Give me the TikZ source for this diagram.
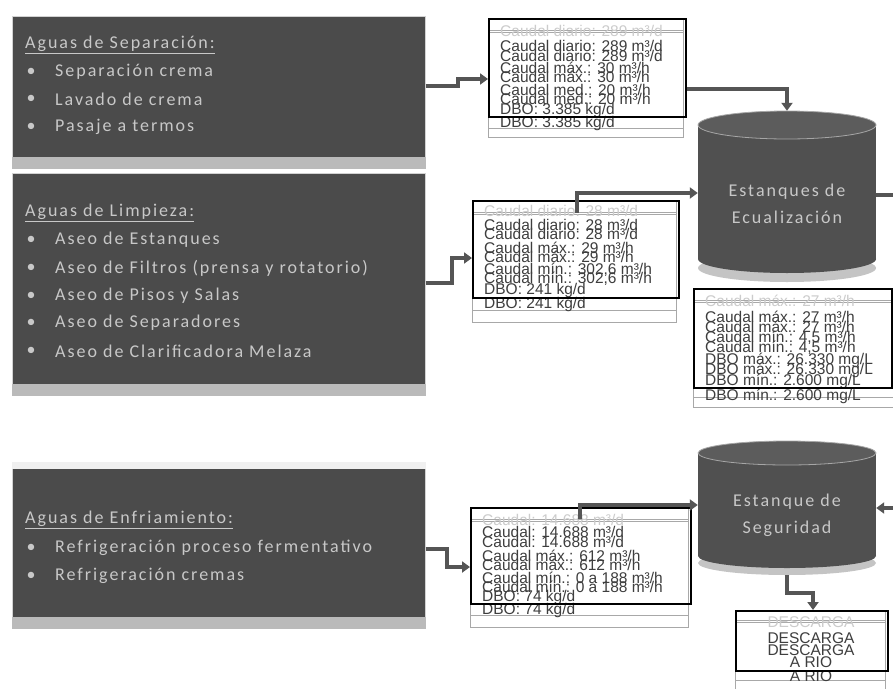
\documentclass[tikz,border=0pt]{standalone}
\usepackage{fontspec}
\setmainfont{Liberation Sans}
\newfontfamily\boxfamily{Carlito}[LetterSpace=11]
\newcommand\srcfont{\boxfamily\fontsize{18}{20}\selectfont}
\newcommand\tankfont{\boxfamily\fontsize{18}{27}\selectfont}
\newcommand\tabfont{\fontsize{15.5}{16}\selectfont}
\usetikzlibrary{arrows.meta}
\definecolor{boxdark}{HTML}{4B4B4B}
\definecolor{boxstrip}{HTML}{BABABA}
\definecolor{boxtext}{HTML}{C8C8C8}
\definecolor{conncol}{HTML}{555555}
\definecolor{tabline}{HTML}{A8A8A8}
\definecolor{tabtext}{HTML}{3E3E3E}
\definecolor{tankdark}{HTML}{505050}
\definecolor{tanktop}{HTML}{5C5C5C}
\definecolor{tankrim}{HTML}{C4C4C4}
\begin{document}
\begin{tikzpicture}[x=1pt,y=-1pt,
 srcbox/.style={fill=boxdark, draw=gray!35, line width=0.6pt, minimum width=413pt, inner sep=0pt, anchor=north west},
 srctext/.style={anchor=west, inner sep=0pt, text=boxtext, font=\srcfont},
 dotmark/.style={anchor=center, inner sep=0pt, text=boxtext, font=\srcfont},
 datarect/.style={draw=black, line width=1.6pt, anchor=north west, inner sep=0pt},
 tabbox/.style={draw=tabline, line width=0.8pt},
 tabrow/.style={anchor=west, inner sep=0pt, text=tabtext, font=\tabfont},
 tabfaint/.style={tabrow, text=gray!40},
 tabmid/.style={anchor=center, inner sep=0pt, text=tabtext, font=\tabfont},
 conn/.style={draw=conncol, line width=3.2pt, -{Triangle[length=8pt,width=11pt]}},
 connline/.style={draw=conncol, line width=3.2pt},
 tanktxt/.style={align=center, text=boxtext, font=\tankfont, inner sep=0pt},
 tanknode/.style={inner sep=0pt, minimum width=178pt},
]
\useasboundingbox (0,0) rectangle (893,688);
\fill[white] (0,0) rectangle (893,688);

% ---------- source boxes ----------
\node[srcbox, minimum height=152pt] (s1) at (12,16) {};
\fill[boxstrip] ([yshift=12pt]s1.south west) rectangle (s1.south east);
\node[srctext] (s1t) at (25,45) {\underline{Aguas de Separación:}};
\node[dotmark] (s1d1) at (31,72) {•};  \node[srctext] (s1a) at (55,72) {Separación crema};
\node[dotmark] (s1d2) at (31,99) {•};  \node[srctext] (s1b) at (55,99) {Lavado de crema};
\node[dotmark] (s1d3) at (31,127) {•}; \node[srctext] (s1c) at (55,127) {Pasaje a termos};

\node[srcbox, minimum height=222pt] (s2) at (12,173) {};
\fill[boxstrip] ([yshift=12pt]s2.south west) rectangle (s2.south east);
\node[srctext] (s2t) at (25,213) {\underline{Aguas de Limpieza:}};
\node[dotmark] (s2d1) at (31,240) {•}; \node[srctext] (s2a) at (55,240) {Aseo de Estanques};
\node[dotmark] (s2d2) at (31,268) {•}; \node[srctext] (s2b) at (55,268) {Aseo de Filtros (prensa y rotatorio)};
\node[dotmark] (s2d3) at (31,296) {•}; \node[srctext] (s2c) at (55,296) {Aseo de Pisos y Salas};
\node[dotmark] (s2d4) at (31,323) {•}; \node[srctext] (s2d) at (55,323) {Aseo de Separadores};
\node[dotmark] (s2d5) at (31,351) {•}; \node[srctext] (s2e) at (55,351) {Aseo de Clarificadora Melaza};

\node[srcbox, minimum height=166pt] (s3) at (12,462) {};
\fill[gray!12] (s3.north west) rectangle ([yshift=-7pt]s3.north east);
\fill[boxstrip] ([yshift=12pt]s3.south west) rectangle (s3.south east);
\node[srctext] (s3t) at (25,520) {\underline{Aguas de Enfriamiento:}};
\node[dotmark] (s3d1) at (31,548) {•}; \node[srctext] (s3a) at (55,548) {Refrigeración proceso fermentativo};
\node[dotmark] (s3d2) at (31,576) {•}; \node[srctext] (s3b) at (55,576) {Refrigeración cremas};

% ---------- data tables ----------
% q1
\draw[tabbox] (488,18) rectangle (683,137);
\draw[tabline] (488,30) -- (683,30) (488,32) -- (683,32) (488,128) -- (683,128);
\node[tabfaint] at (500,31) {Caudal diario: 289 m³/d};
\node[tabrow] at (500,46) {Caudal diario: 289 m³/d};
\node[tabrow] at (500,56) {Caudal diario: 289 m³/d};
\node[tabrow] at (500,68) {Caudal máx.: 30 m³/h};
\node[tabrow] at (500,77) {Caudal máx.: 30 m³/h};
\node[tabrow] at (500,90) {Caudal med.: 20 m³/h};
\node[tabrow] at (500,99) {Caudal med.: 20 m³/h};
\node[tabrow] at (500,110) {DBO: 3.385 kg/d};
\node[tabrow] at (500,123) {DBO: 3.385 kg/d};
\node[datarect, minimum width=197pt, minimum height=98pt] (q1) at (488,18) {};

% q2
\draw[tabbox] (472,200) rectangle (676,322);
\draw[tabline] (472,212) -- (676,212) (472,214) -- (676,214) (472,310) -- (676,310);
\node[tabfaint] at (484,211) {Caudal diario: 28 m³/d};
\node[tabrow] at (484,225) {Caudal diario: 28 m³/d};
\node[tabrow] at (484,234) {Caudal diario: 28 m³/d};
\node[tabrow] at (484,248) {Caudal máx.: 29 m³/h};
\node[tabrow] at (484,257) {Caudal máx.: 29 m³/h};
\node[tabrow] at (484,270) {Caudal mín.: 302,6 m³/h};
\node[tabrow] at (484,279) {Caudal mín.: 302,6 m³/h};
\node[tabrow] at (484,290) {DBO: 241 kg/d};
\node[tabrow] at (484,304) {DBO: 241 kg/d};
\node[datarect, minimum width=206pt, minimum height=97pt] (q2) at (472,200) {};

% q3
\draw[tabbox] (693,288) rectangle (893,407);
\draw[tabline] (693,300) -- (893,300) (693,302) -- (893,302) (693,397) -- (893,397);
\node[tabfaint] at (705,301) {Caudal máx.: 27 m³/h};
\node[tabrow] at (705,317) {Caudal máx.: 27 m³/h};
\node[tabrow] at (705,327) {Caudal máx.: 27 m³/h};
\node[tabrow] at (705,338) {Caudal mín.: 4,5 m³/h};
\node[tabrow] at (705,348) {Caudal mín.: 4,5 m³/h};
\node[tabrow] at (705,360) {DBO máx.: 26.330 mg/L};
\node[tabrow] at (705,370) {DBO máx.: 26.330 mg/L};
\node[tabrow] at (705,381) {DBO mín.: 2.600 mg/L};
\node[tabrow] at (705,396) {DBO mín.: 2.600 mg/L};
\node[datarect, minimum width=198pt, minimum height=99pt] (q3) at (693,288) {};

% q4
\draw[tabbox] (470,507) rectangle (688,627);
\draw[tabline] (470,519) -- (688,519) (470,521) -- (688,521) (470,615) -- (688,615);
\node[tabfaint] at (482,520) {Caudal: 14.688 m³/d};
\node[tabrow] at (482,532) {Caudal: 14.688 m³/d};
\node[tabrow] at (482,542) {Caudal: 14.688 m³/d};
\node[tabrow] at (482,556) {Caudal máx.: 612 m³/h};
\node[tabrow] at (482,565) {Caudal máx.: 612 m³/h};
\node[tabrow] at (482,578) {Caudal mín.: 0 a 188 m³/h};
\node[tabrow] at (482,587) {Caudal mín.: 0 a 188 m³/h};
\node[tabrow] at (482,597) {DBO: 74 kg/d};
\node[tabrow] at (482,610) {DBO: 74 kg/d};
\node[datarect, minimum width=220pt, minimum height=96pt] (q4) at (470,507) {};

% q5
\draw[tabbox] (735,610) rectangle (885,690);
\draw[tabline] (735,620) -- (885,620) (735,622) -- (885,622) (735,680) -- (885,680);
\node[tabmid, text=gray!40] at (811,622) {DESCARGA};
\node[tabmid] at (811,638) {DESCARGA};
\node[tabmid] at (811,650) {DESCARGA};
\node[tabmid] at (811,662) {A RIO};
\node[tabmid] at (811,676) {A RIO};
\node[datarect, minimum width=152pt, minimum height=60pt] (q5) at (735,610) {};

% ---------- tanks ----------
\node[tanknode, minimum height=171pt] (e1) at (787,196.5) {};
\fill[tankrim] (787,268) ellipse (89 and 14);
\fill[tankdark] (787,259) ellipse (89 and 14);
\fill[tankdark] (698,125) rectangle (876,259);
\fill[tanktop] (787,125) ellipse (89 and 14);
\draw[gray!70, line width=0.8pt] (787,125) ellipse (89 and 14);
\node[tanktxt] (e1t) at (787,204) {Estanques de\\Ecualización};

\node[tanknode, minimum height=134pt] (e2) at (787,508) {};
\fill[tankrim] (787,563) ellipse (89 and 12);
\fill[tankdark] (787,556) ellipse (89 and 12);
\fill[tankdark] (698,453) rectangle (876,556);
\fill[tanktop] (787,453) ellipse (89 and 12);
\draw[gray!70, line width=0.8pt] (787,453) ellipse (89 and 12);
\node[tanktxt] (e2t) at (787,515) {Estanque de\\Seguridad};

% ---------- connectors ----------
\coordinate (q2out) at (577,213);
\coordinate (q4out) at (580,519);
\coordinate (rightA) at (893,195);
\coordinate (rightB) at (893,508);

\draw[conn] (s1.east |- 0,86) -- (458,86) |- (q1.west |- 0,79);
\draw[conn] (q1.east |- 0,89) -| (e1.north);
\draw[conn] (s2.east |- 0,283) -- (452,283) |- (q2.west |- 0,258);
\draw[conn] (q2out) |- (e1.west |- 0,193);
\draw[connline] (e1.east |- rightA) -- (rightA);
\draw[conn] (s3.east |- 0,549) -- (447,549) |- (q4.west |- 0,567);
\draw[conn] (q4out) |- (e2.west |- 0,505);
\draw[conn] (rightB) -- (e2.east |- rightB);
\draw[conn] (e2.south) |- (813,593) -- (q5.north -| 813,0);
\end{tikzpicture}
\end{document}
